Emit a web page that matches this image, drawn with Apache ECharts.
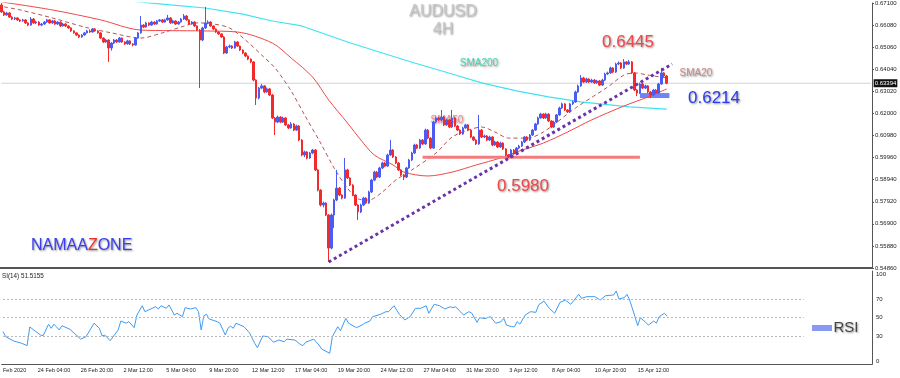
<!DOCTYPE html>
<html>
<head>
<meta charset="utf-8">
<script src="https://cdn.jsdelivr.net/npm/echarts@6/dist/echarts.min.js"></script>
<style>
html, body { margin: 0; padding: 0; background: #fff; }
#main { width: 900px; height: 378px; }
</style>
</head>
<body>
<div id="main"></div>
<script>
// 4H bars, bar 0 = 20 Feb 2020 00:00; right side of the chart left empty (chart shift)
var barCount = 325;
var timeTicks = {0: 'Feb 2020', 13: '24 Feb 04:00', 29: '26 Feb 20:00', 45: '2 Mar 12:00', 61: '5 Mar 04:00',
	77: '9 Mar 20:00', 93: '12 Mar 12:00', 109: '17 Mar 04:00', 125: '19 Mar 20:00', 141: '24 Mar 12:00',
	157: '27 Mar 04:00', 173: '31 Mar 20:00', 189: '3 Apr 12:00', 205: '8 Apr 04:00', 221: '10 Apr 20:00',
	237: '15 Apr 12:00'};
var priceTicks = ['0.54860', '0.55880', '0.56900', '0.57920', '0.58940', '0.59960', '0.60980',
	'0.62000', '0.63020', '0.64040', '0.65060', '0.66080', '0.67100'];
var rsiTicks = [0, 30, 50, 70, 100];
var rsiLevels = [30, 50, 70];
var lastPrice = 0.63394;

// AUDUSD candles in pips: [open, close, low, high]
var candles = [
[6701,6669,6664,6710],[6669,6655,6650,6674],[6655,6664,6651,6669],[6664,6645,6641,6668],[6645,6636,6631,6649],[6636,6641,6632,6646],[6641,6632,6627,6644],[6632,6627,6622,6635],
[6627,6632,6624,6637],[6632,6618,6613,6635],[6618,6608,6603,6621],[6608,6636,6605,6645],[6636,6618,6614,6640],[6618,6622,6612,6628],[6622,6608,6604,6626],[6608,6613,6603,6618],
[6613,6622,6609,6627],[6622,6632,6618,6637],[6632,6618,6614,6636],[6618,6627,6614,6632],[6627,6613,6609,6631],[6613,6622,6609,6627],[6622,6604,6600,6625],[6604,6613,6601,6618],
[6613,6604,6599,6617],[6604,6595,6591,6607],[6595,6581,6577,6598],[6581,6572,6568,6584],[6572,6562,6558,6575],[6562,6553,6548,6565],[6553,6562,6550,6566],[6562,6572,6559,6576],
[6572,6581,6569,6586],[6581,6576,6572,6588],[6576,6590,6573,6594],[6590,6581,6577,6594],[6581,6572,6568,6584],[6572,6548,6544,6575],[6548,6530,6525,6551],[6530,6539,6526,6544],
[6539,6502,6438,6542],[6502,6525,6490,6529],[6525,6539,6520,6544],[6539,6530,6525,6543],[6530,6548,6527,6553],[6548,6530,6526,6551],[6530,6521,6516,6533],[6521,6535,6518,6540],
[6535,6521,6516,6538],[6521,6516,6510,6524],[6516,6548,6513,6552],[6548,6572,6545,6576],[6572,6608,6568,6650],[6608,6599,6594,6612],[6599,6618,6596,6623],[6618,6608,6603,6621],
[6608,6622,6605,6627],[6622,6613,6609,6626],[6613,6627,6610,6631],[6627,6632,6623,6636],[6632,6622,6618,6635],[6622,6632,6619,6637],[6632,6641,6628,6655],[6641,6618,6614,6645],
[6618,6627,6615,6633],[6627,6613,6609,6630],[6613,6622,6610,6627],[6622,6636,6619,6640],[6636,6650,6632,6659],[6650,6632,6628,6654],[6632,6613,6609,6635],[6613,6622,6610,6627],
[6622,6604,6600,6625],[6604,6585,6581,6607],[6585,6539,6317,6590],[6539,6595,6534,6600],[6595,6618,6590,6692],[6618,6622,6612,6630],[6622,6604,6600,6626],[6604,6590,6586,6607],
[6590,6576,6572,6593],[6576,6567,6563,6579],[6567,6553,6549,6570],[6553,6479,6474,6557],[6479,6507,6475,6512],[6507,6511,6501,6518],[6511,6502,6497,6515],[6502,6530,6499,6535],
[6530,6511,6507,6534],[6511,6493,6488,6514],[6493,6479,6474,6496],[6479,6465,6460,6482],[6465,6451,6446,6468],[6451,6438,6432,6454],[6438,6354,6348,6442],[6354,6271,6239,6358],
[6271,6317,6265,6322],[6317,6327,6312,6336],[6327,6299,6294,6331],[6299,6313,6296,6320],[6313,6285,6280,6318],[6285,6179,6174,6290],[6179,6160,6100,6183],[6160,6183,6155,6190],
[6183,6160,6155,6187],[6160,6179,6156,6185],[6179,6147,6142,6183],[6147,6133,6128,6151],[6133,6151,6129,6160],[6151,6123,6118,6155],[6123,6142,6119,6148],[6142,6077,6072,6146],
[6077,6008,6002,6081],[6008,6022,5998,6028],[6022,5994,5988,6026],[5994,6017,5990,6022],[6017,6031,6012,6036],[6031,5939,5934,6035],[5939,5846,5840,5944],[5846,5777,5770,5850],
[5777,5786,5766,5793],[5786,5731,5726,5790],[5731,5578,5514,5735],[5578,5731,5572,5738],[5731,5800,5671,5806],[5800,5855,5795,5939],[5855,5823,5818,5860],[5823,5809,5803,5827],
[5809,5939,5805,5994],[5939,5902,5897,5944],[5902,5869,5864,5906],[5869,5823,5818,5873],[5823,5777,5772,5827],[5777,5745,5708,5781],[5745,5777,5740,5783],[5777,5809,5772,5815],
[5809,5786,5781,5813],[5786,5837,5782,5843],[5837,5892,5832,5898],[5892,5929,5887,5935],[5929,5906,5901,5934],[5906,5948,5902,5954],[5948,5971,5943,5977],[5971,5957,5952,5975],
[5957,6008,5953,6014],[6008,6031,6003,6077],[6031,5999,5994,6035],[5999,5971,5966,6003],[5971,5939,5934,5975],[5939,5916,5911,5943],[5916,5906,5892,5920],[5906,5948,5902,5953],
[5948,5985,5944,5990],[5985,6017,5980,6023],[6017,6054,6013,6060],[6054,6040,6035,6059],[6040,6077,6036,6082],[6077,6059,6054,6081],[6059,6123,6055,6130],[6123,6086,6081,6128],
[6086,6040,6035,6090],[6040,6160,6036,6166],[6160,6179,6155,6185],[6179,6170,6165,6184],[6170,6183,6166,6216],[6183,6147,6142,6188],[6147,6170,6143,6176],[6170,6137,6132,6174],
[6137,6179,6133,6216],[6179,6142,6137,6184],[6142,6123,6118,6146],[6123,6105,6100,6127],[6105,6133,6101,6139],[6133,6147,6129,6152],[6147,6123,6118,6151],[6123,6091,6086,6127],
[6091,6077,6072,6095],[6077,6059,6054,6081],[6059,6123,6055,6193],[6123,6091,6086,6128],[6091,6096,6086,6102],[6096,6077,6072,6100],[6077,6091,6073,6097],[6091,6054,6049,6095],
[6054,6068,6050,6074],[6068,6045,6040,6072],[6045,6063,6041,6069],[6063,6036,6031,6067],[6036,6008,6003,6040],[6008,5999,5994,6012],[5999,6031,5995,6036],[6031,6013,6008,6035],
[6013,6040,6009,6045],[6040,6049,6035,6055],[6049,6068,6045,6073],[6068,6091,6064,6096],[6091,6077,6072,6095],[6077,6100,6073,6105],[6100,6123,6096,6128],[6123,6151,6119,6156],
[6151,6179,6147,6185],[6179,6197,6175,6203],[6197,6179,6174,6201],[6179,6197,6175,6203],[6197,6165,6160,6201],[6165,6137,6132,6169],[6137,6160,6133,6166],[6160,6193,6156,6198],
[6193,6225,6189,6231],[6225,6244,6221,6250],[6244,6216,6211,6248],[6216,6207,6202,6220],[6207,6244,6203,6249],[6244,6253,6239,6259],[6253,6299,6249,6305],[6299,6327,6295,6333],
[6327,6364,6323,6377],[6364,6345,6340,6369],[6345,6359,6341,6365],[6359,6345,6340,6363],[6345,6354,6341,6360],[6354,6341,6336,6358],[6341,6350,6337,6355],[6350,6331,6326,6354],
[6331,6354,6327,6360],[6354,6382,6350,6388],[6382,6387,6377,6393],[6387,6410,6383,6416],[6410,6391,6386,6414],[6391,6428,6387,6434],[6428,6433,6423,6440],[6433,6410,6405,6437],
[6410,6438,6406,6451],[6438,6428,6423,6441],[6428,6438,6424,6447],[6438,6387,6382,6442],[6387,6308,6303,6391],[6308,6294,6280,6312],[6294,6336,6290,6342],[6336,6317,6312,6341],
[6317,6327,6312,6333],[6327,6299,6294,6331],[6299,6285,6271,6303],[6285,6308,6281,6313],[6308,6294,6289,6312],[6294,6336,6290,6341],[6336,6387,6332,6410],[6387,6373,6368,6391],
[6373,6339,6335,6378]
];

// moving averages: [bar, pips]
var sma20 = [[1,6692],[7,6678],[19,6641],[31,6599],[41,6572],[52,6548],[60,6572],[67,6599],[73,6618],
	[79,6613],[85,6595],[91,6539],[97,6470],[102,6410],[108,6304],[113,6193],[119,6063],[124,5948],
	[129,5855],[133,5805],[137,5800],[142,5837],[147,5892],[153,5939],[162,6017],[168,6091],[174,6123],
	[179,6137],[184,6114],[189,6086],[196,6086],[202,6114],[214,6225],[226,6322],[232,6377],[236,6387],
	[241,6377],[248,6364]];
var sma50 = [[0,6715],[19,6678],[37,6632],[52,6585],[75,6581],[88,6576],[101,6525],[108,6456],[116,6368],
	[122,6262],[129,6156],[134,6077],[139,6008],[146,5962],[150,5929],[159,5911],[168,5929],[177,5962],
	[186,5994],[192,6022],[202,6063],[211,6114],[220,6170],[232,6234],[241,6276],[248,6313]];
var sma200 = [[48,6719],[63,6701],[76,6687],[90,6659],[101,6627],[112,6604],[129,6530],[142,6479],
	[154,6433],[168,6382],[179,6341],[192,6304],[204,6276],[216,6253],[234,6230],[248,6220]];

// RSI(14): [bar, value]
var rsi = [[0,35],[1,29.6],[4,25],[7,22.5],[9,20],[10,40],[14,31.4],[15,30.7],[17,42.9],[18,38.6],[19,43],
	[21,36.8],[22,41.4],[25,37.5],[29,27],[31,29.6],[34,44],[36,38.6],[37,30.3],[38,31.4],[40,25.3],[43,36.8],
	[44,46.4],[46,44],[47,45.7],[49,39.3],[50,52.8],[52,62.8],[53,56.4],[57,61.7],[58,59.3],[59,62.8],[61,60],
	[62,63.6],[64,52.8],[65,54.7],[67,51],[68,60.7],[70,59.3],[72,60.7],[73,56.4],[74,36.8],[75,52.1],[76,53.6],
	[77,48.6],[80,45.7],[81,44],[83,31.4],[84,38.6],[85,41],[86,38.6],[87,44],[90,40.3],[92,33.9],[94,22.5],
	[95,17.8],[97,30.3],[99,29.6],[101,23.6],[103,26],[105,24.2],[106,27],[109,26],[111,21.4],[112,20],
	[113,23.6],[116,27],[118,20.7],[119,16.4],[122,11.8],[123,29.6],[125,40.3],[126,36],[128,49.3],[129,44],
	[132,39.3],[134,42],[135,44],[137,46.4],[138,51],[141,53.6],[143,56.4],[144,56.4],[146,62.8],[148,53.6],
	[150,47.5],[152,51],[154,60],[156,60],[158,62.8],[159,54.7],[161,64.3],[163,62.8],[165,59.3],[167,61.7],
	[168,60.7],[169,61.7],[172,52.8],[174,56.4],[175,55],[177,45],[178,50],[180,49],[182,51],[184,44],
	[186,45.7],[187,49.3],[188,42],[190,40.3],[191,40.3],[192,45.7],[193,43],[195,52.8],[197,56.4],[199,55.7],
	[200,63.6],[202,67.8],[204,60],[206,54.7],[208,66.4],[210,68.9],[212,64.3],[215,75],[216,70.7],[218,72.5],
	[221,72.5],[223,68.9],[225,73.5],[228,74.3],[229,78.6],[230,70],[232,71.4],[233,75],[234,68.9],[236,51],
	[237,41.4],[238,50],[240,45],[241,42],[243,46.4],[244,44],[245,51],[247,54.7],[248,51.5155]];

// hand-drawn objects on the chart
var trendLine = [[122,5514],[250,6428]];
var supportLine = [[157,5997],[238,5997]];
var boxZone = [[238,6294],[249,6271]];

function px(rows) {
	return rows.map(function (r) { return [r[0], r[1] / 10000]; });
}

var cats = [];
for (var i = 0; i < barCount; i++) cats.push(String(i));

var txtFont = 'Liberation Sans';
var shadowTxt = {textShadowColor: 'rgba(0,0,0,0.45)', textShadowBlur: 2, textShadowOffsetX: 1, textShadowOffsetY: 1};

function label(text, x, y, size, color, z, extra) {
	var st = Object.assign({text: text, x: x, y: y, fontSize: size, fill: color, fontFamily: txtFont,
		align: 'center', verticalAlign: 'middle'}, shadowTxt, extra || {});
	return {type: 'text', z: z, style: st};
}

var chart = echarts.init(document.getElementById('main'));
chart.setOption({
	animation: false,
	backgroundColor: '#fff',
	grid: [
		{left: 0, right: 28, top: 3, height: 265},
		{left: 0, right: 28, top: 271, height: 93.3}
	],
	xAxis: [
		{type: 'category', gridIndex: 0, data: cats,
			axisLabel: {show: false}, axisTick: {show: false},
			axisLine: {lineStyle: {color: '#555', width: 2}}},
		{type: 'category', gridIndex: 1, data: cats,
			axisLine: {lineStyle: {color: '#555'}},
			axisTick: {length: 3, lineStyle: {color: '#555'},
				interval: function (idx) { return timeTicks[idx] !== undefined; }},
			axisLabel: {fontSize: 5.5, color: '#222', fontFamily: txtFont, align: 'left', margin: 3,
				interval: function (idx) { return timeTicks[idx] !== undefined; },
				formatter: function (v, idx) { return timeTicks[idx] || ''; }}}
	],
	yAxis: [
		{type: 'value', gridIndex: 0, position: 'right', min: 0.5486, max: 0.6710, scale: true,
			splitLine: {show: false}, axisLabel: {show: false}, axisTick: {show: false},
			axisLine: {show: true, lineStyle: {color: '#555'}}},
		{type: 'category', gridIndex: 0, position: 'right', data: priceTicks, boundaryGap: false,
			axisLine: {show: false}, splitLine: {show: false},
			axisTick: {show: true, length: 2, lineStyle: {color: '#555'}},
			axisLabel: {fontSize: 6, color: '#222', fontFamily: txtFont, margin: 3}},
		{type: 'value', gridIndex: 1, position: 'right', min: 0, max: 100, interval: 10,
			splitLine: {show: false}, axisTick: {show: false},
			axisLine: {show: true, lineStyle: {color: '#555'}},
			axisLabel: {fontSize: 6, color: '#222', fontFamily: txtFont, margin: 4,
				verticalAlignMaxLabel: 'top', verticalAlignMinLabel: 'bottom',
				formatter: function (v) { return rsiTicks.indexOf(v) >= 0 ? String(v) : ''; }}}
	],
	series: [
		{type: 'line', name: 'bid', xAxisIndex: 0, yAxisIndex: 0, silent: true, showSymbol: false, z: 1,
			data: [[0, lastPrice], [barCount - 1, lastPrice]],
			lineStyle: {color: '#cfd4da', width: 1},
			endLabel: {show: true, formatter: lastPrice.toFixed(5), backgroundColor: '#111', color: '#fff',
				fontSize: 6, fontFamily: txtFont, padding: [1, 1], distance: 3}},
		{type: 'candlestick', xAxisIndex: 0, yAxisIndex: 0, barWidth: 2, silent: true, z: 3,
			data: candles.map(function (r) { return r.map(function (v) { return v / 10000; }); }),
			itemStyle: {color: '#4a5cf2', color0: '#f42a2a', borderColor: '#4a5cf2', borderColor0: '#f42a2a', borderWidth: 1},
			markArea: {silent: true, itemStyle: {color: '#7084f4'},
				data: [[{coord: [boxZone[0][0], boxZone[0][1] / 10000]}, {coord: [boxZone[1][0], boxZone[1][1] / 10000]}]]}
		},
		{type: 'line', name: 'SMA200', xAxisIndex: 0, yAxisIndex: 0, data: px(sma200), showSymbol: false, silent: true,
			lineStyle: {color: '#3ee4f0', width: 1.2}, z: 2},
		{type: 'line', name: 'SMA50', xAxisIndex: 0, yAxisIndex: 0, data: px(sma50), showSymbol: false, silent: true,
			smooth: 0.3, lineStyle: {color: '#f04848', width: 1}, z: 2},
		{type: 'line', name: 'SMA20', xAxisIndex: 0, yAxisIndex: 0, data: px(sma20), showSymbol: false, silent: true,
			smooth: 0.3, lineStyle: {color: '#b85454', width: 1, type: [4, 3]}, z: 2},
		{type: 'line', name: 'support', xAxisIndex: 0, yAxisIndex: 0, data: px(supportLine), showSymbol: false, silent: true,
			lineStyle: {color: '#f47c7c', width: 3}, z: 2},
		{type: 'line', name: 'trend', xAxisIndex: 0, yAxisIndex: 0, data: px(trendLine), showSymbol: false, silent: true,
			lineStyle: {color: '#6a34a6', width: 3, type: [3, 3]}, z: 5},
		{type: 'line', name: 'RSI', xAxisIndex: 1, yAxisIndex: 2, data: rsi, showSymbol: false, silent: true,
			lineStyle: {color: '#3d9cf5', width: 1},
			markLine: {silent: true, symbol: ['none', 'none'], label: {show: false},
				lineStyle: {color: '#b8b8b8', type: [2, 2], width: 1},
				data: rsiLevels.map(function (v) { return [{coord: [0, v]}, {coord: [299, v]}]; })}}
	],
	graphic: [
		label('AUDUSD', 443, 12, 16, '#c9c9c9', 10),
		label('4H', 443, 30, 16, '#c9c9c9', 10),
		label('0.6445', 628, 42, 17, '#f04848', 10),
		label('0.6214', 714, 98, 17, '#2b3cf0', 10),
		label('0.5980', 523, 186, 17, '#f04848', 10),
		label('SMA20', 696, 73, 10, '#d08888', 10),
		label('SMA200', 479, 63, 10, '#3cdcb4', 10),
		label('SMA50', 447, 120, 10, '#ee8a8a', 0),
		{type: 'text', z: 10, style: Object.assign({x: 31, y: 246, fontSize: 16, fontFamily: txtFont, verticalAlign: 'middle',
			text: '{b|NAMAA}{r|Z}{b|ONE}', rich: {b: {fill: '#3a3cf2', fontSize: 16, fontFamily: txtFont},
				r: {fill: '#f03030', fontSize: 16, fontFamily: txtFont}}}, shadowTxt)},
		{type: 'text', z: 10, style: {x: 2, y: 276.5, text: 'SI(14) 51.5155', fontSize: 6.3, fill: '#222',
			fontFamily: txtFont, verticalAlign: 'middle'}},
		{type: 'rect', z: 10, shape: {x: 812, y: 325, width: 20, height: 6}, style: {fill: '#8898f5'}},
		label('RSI', 846, 328, 15, '#444', 10)
	]
});
</script>
</body>
</html>
